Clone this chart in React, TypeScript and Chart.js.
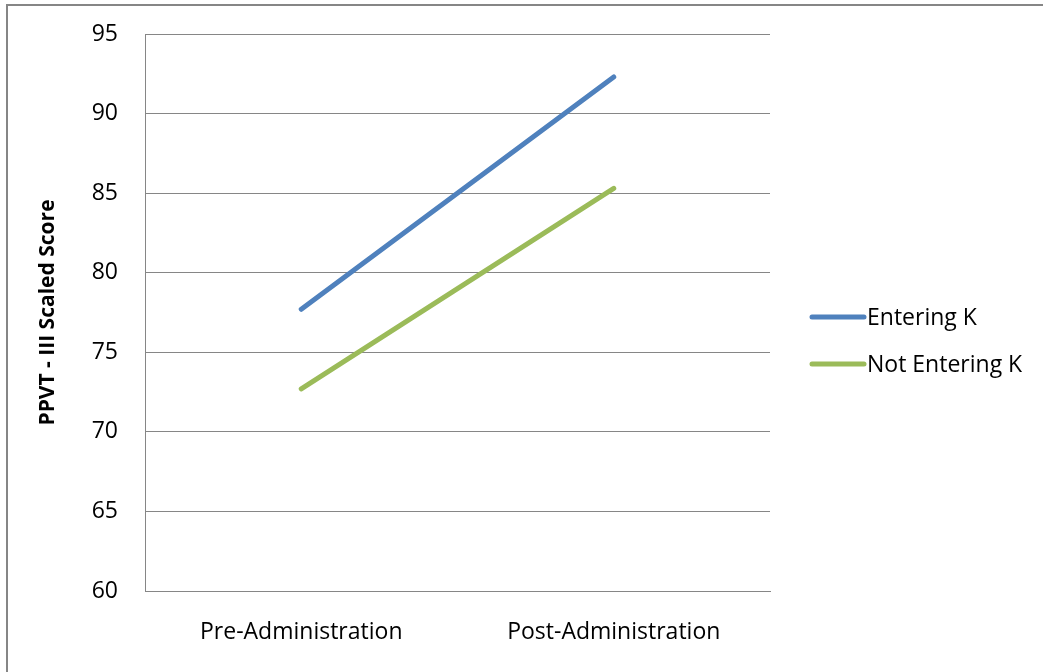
import React, { useEffect, useRef } from "react";
import { Chart, registerables } from "chart.js";

Chart.register(...registerables);

const categories = ["Pre-Administration", "Post-Administration"];
const seriesNames = ["Entering K", "Not Entering K"];
const enteringK = [77.7, 92.3];
const notEnteringK = [72.7, 85.3];
const seriesColors = ["#4F81BD", "#9BBB59"];
const yTicks = [60, 65, 70, 75, 80, 85, 90, 95];
const yTitle = "PPVT - III Scaled Score";

const FONT = "'Open Sans', 'Noto Sans', sans-serif";
const GRAY = "#868686";

const legendPlugin = {
  id: "customLegend",
  afterDraw(chart: any) {
    const ctx = chart.ctx;
    const items = chart.data.datasets;
    ctx.save();
    items.forEach((ds: any, i: number) => {
      const y = 317 + i * 47;
      ctx.strokeStyle = ds.borderColor;
      ctx.lineWidth = 5;
      ctx.lineCap = "round";
      ctx.beginPath();
      ctx.moveTo(812, y);
      ctx.lineTo(864, y);
      ctx.stroke();
      ctx.fillStyle = "#000";
      ctx.font = `23px ${FONT}`;
      ctx.textBaseline = "middle";
      ctx.textAlign = "left";
      ctx.fillText(ds.label, 867, y + 1);
    });
    ctx.restore();
  },
};

export default function App() {
  const ref = useRef<HTMLCanvasElement>(null);
  useEffect(() => {
    if (!ref.current) return;
    const chart = new Chart(ref.current, {
      type: "line",
      data: {
        labels: categories,
        datasets: [
          {
            label: seriesNames[0],
            data: enteringK,
            borderColor: seriesColors[0],
            backgroundColor: seriesColors[0],
            borderWidth: 5,
            borderCapStyle: "round",
            pointRadius: 0,
            pointHoverRadius: 0,
          },
          {
            label: seriesNames[1],
            data: notEnteringK,
            borderColor: seriesColors[1],
            backgroundColor: seriesColors[1],
            borderWidth: 5,
            borderCapStyle: "round",
            pointRadius: 0,
            pointHoverRadius: 0,
          },
        ],
      },
      options: {
        responsive: false,
        animation: false,
        events: [],
        layout: { padding: { left: 20, right: 273, top: 34, bottom: 0 } },
        plugins: {
          legend: { display: false },
          tooltip: { enabled: false },
        },
        scales: {
          x: {
            offset: true,
            grid: { display: false, drawTicks: false },
            border: { display: true, color: GRAY, width: 1 },
            ticks: {
              color: "#000",
              padding: 28,
              maxRotation: 0,
              font: { family: FONT, size: 23 },
            },
            afterFit(scale: any) {
              scale.height = 81;
              scale.paddingLeft = 0;
              scale.paddingRight = 0;
            },
          },
          y: {
            min: 60,
            max: 95,
            afterBuildTicks(scale: any) {
              scale.ticks = yTicks.map((v) => ({ value: v }));
            },
            grid: { color: GRAY, lineWidth: 1, drawTicks: false },
            border: { display: true, color: GRAY, width: 1 },
            ticks: {
              color: "#000",
              padding: 27,
              font: { family: FONT, size: 23 },
            },
            title: {
              display: true,
              text: yTitle,
              color: "#000",
              font: { family: FONT, size: 21, weight: "bold" },
              padding: { top: 15, bottom: 0 },
            },
            afterFit(scale: any) {
              scale.width = 125;
              scale.paddingTop = 0;
              scale.paddingBottom = 0;
            },
          },
        },
      },
      plugins: [legendPlugin],
    } as any);
    return () => chart.destroy();
  }, []);
  return (
    <div style={{ position: "fixed", left: 0, top: 0, width: 1043, height: 672, background: "#fff", overflow: "hidden" }}>
      <canvas ref={ref} width={1043} height={672} style={{ display: "block", width: 1043, height: 672 }} />
      <div
        style={{
          position: "absolute",
          left: 6,
          top: 4,
          width: 1100,
          height: 700,
          borderLeft: `2px solid ${GRAY}`,
          borderTop: `2px solid ${GRAY}`,
          pointerEvents: "none",
        }}
      />
    </div>
  );
}
